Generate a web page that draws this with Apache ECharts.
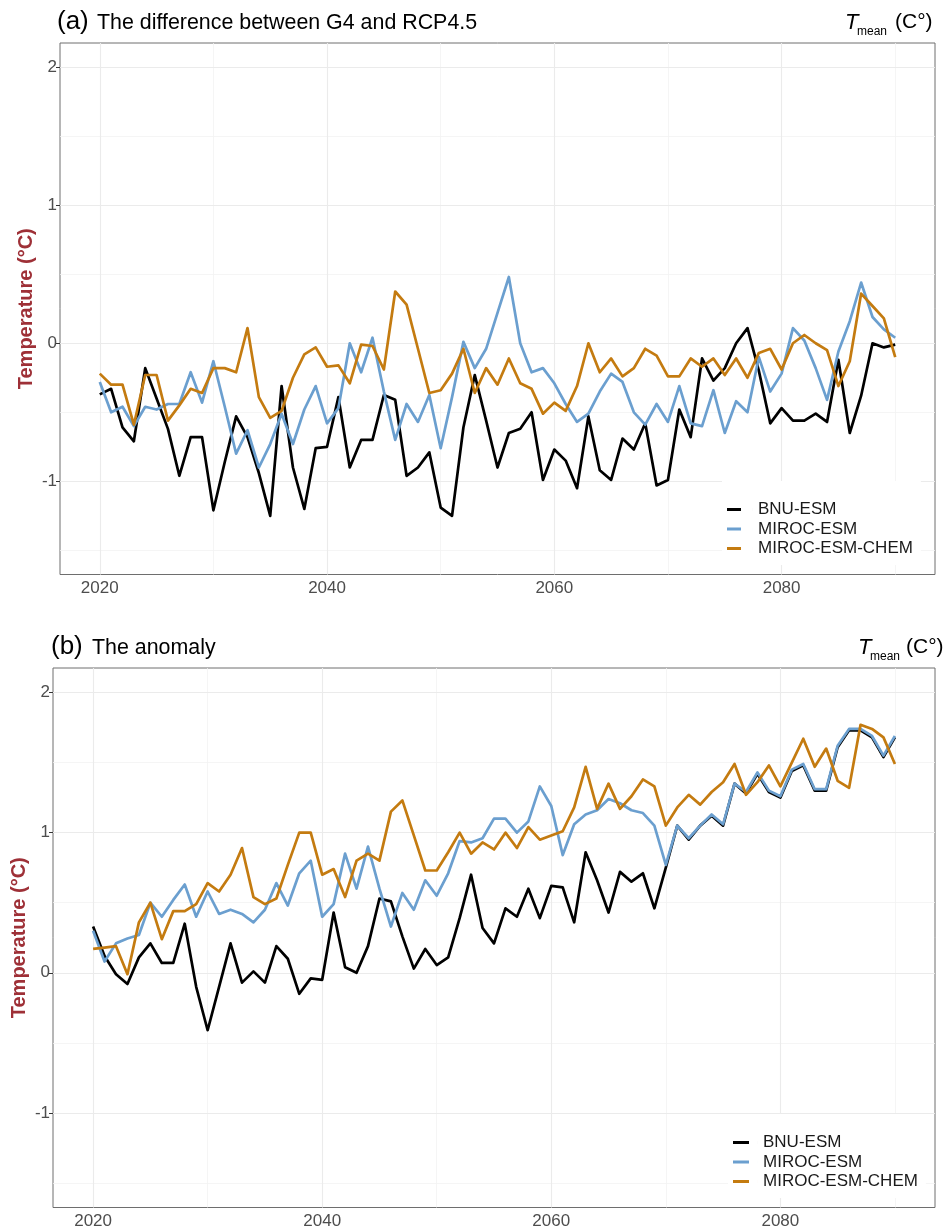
<!DOCTYPE html>
<html>
<head>
<meta charset="utf-8">
<title>G4 vs RCP4.5 mean temperature</title>
<script src="https://cdn.jsdelivr.net/npm/echarts@6.0.0/dist/echarts.min.js"></script>
<style>
  html, body { margin: 0; padding: 0; background: #fff; }
  #chart { width: 944px; height: 1232px; }
</style>
</head>
<body>
<div id="chart"></div>
<script>
// Years shown on both panels
const years = [];
for (let y = 2020; y <= 2090; y++) years.push(y);

const seriesNames = ['BNU-ESM', 'MIROC-ESM', 'MIROC-ESM-CHEM'];

// Panel (a): difference between G4 and RCP4.5 (°C)
const diffBNU = [
  -0.37, -0.33, -0.61, -0.71, -0.18, -0.40, -0.62, -0.96, -0.68, -0.68,
  -1.21, -0.86, -0.53, -0.68, -0.94, -1.25, -0.31, -0.90, -1.20, -0.76,
  -0.75, -0.39, -0.90, -0.70, -0.70, -0.375, -0.41, -0.96, -0.90, -0.79,
  -1.19, -1.25, -0.61, -0.23, -0.56, -0.90, -0.65, -0.62, -0.50, -0.99,
  -0.77, -0.85, -1.05, -0.53, -0.92, -0.99, -0.69, -0.77, -0.58, -1.03,
  -0.99, -0.48, -0.68, -0.11, -0.27, -0.18, 0.00, 0.11, -0.20, -0.58,
  -0.47, -0.56, -0.56, -0.51, -0.57, -0.12, -0.65, -0.38, 0.00, -0.03,
  -0.01
];
const diffMIROC = [
  -0.28, -0.50, -0.46, -0.60, -0.46, -0.48, -0.44, -0.44, -0.21, -0.43,
  -0.13, -0.46, -0.80, -0.63, -0.90, -0.73, -0.51, -0.73, -0.48, -0.31,
  -0.58, -0.47, 0.00, -0.21, 0.04, -0.35, -0.70, -0.44, -0.57, -0.375,
  -0.76, -0.39, 0.01, -0.18, -0.04, 0.22, 0.48, 0.00, -0.21, -0.18,
  -0.29, -0.44, -0.57, -0.51, -0.35, -0.22, -0.28, -0.50, -0.59, -0.44,
  -0.57, -0.31, -0.58, -0.60, -0.34, -0.65, -0.42, -0.50, -0.10, -0.35,
  -0.22, 0.11, 0.02, -0.18, -0.41, -0.06, 0.16, 0.44, 0.19, 0.10,
  0.04
];
const diffCHEM = [
  -0.22, -0.30, -0.30, -0.59, -0.23, -0.23, -0.56, -0.45, -0.33, -0.36,
  -0.18, -0.18, -0.21, 0.11, -0.39, -0.54, -0.49, -0.25, -0.08, -0.03,
  -0.17, -0.16, -0.29, -0.01, -0.02, -0.19, 0.375, 0.28, -0.04, -0.36,
  -0.34, -0.22, -0.04, -0.36, -0.18, -0.30, -0.11, -0.29, -0.33, -0.51,
  -0.43, -0.49, -0.31, 0.00, -0.21, -0.11, -0.24, -0.18, -0.04, -0.09,
  -0.24, -0.24, -0.11, -0.17, -0.11, -0.23, -0.11, -0.25, -0.07, -0.04,
  -0.19, 0.00, 0.06, 0.00, -0.05, -0.31, -0.13, 0.36, 0.27, 0.18,
  -0.10
];

// Panel (b): anomaly (°C)
const anomBNU = [
  0.33, 0.12, -0.01, -0.08, 0.11, 0.21, 0.07, 0.07, 0.35, -0.10,
  -0.41, -0.10, 0.21, -0.07, 0.01, -0.07, 0.19, 0.10, -0.15, -0.04,
  -0.05, 0.43, 0.04, 0.00, 0.19, 0.53, 0.51, 0.26, 0.03, 0.17,
  0.055, 0.11, 0.39, 0.70, 0.32, 0.21, 0.46, 0.40, 0.60, 0.39,
  0.62, 0.61, 0.36, 0.86, 0.66, 0.43, 0.72, 0.65, 0.71, 0.46,
  0.75, 1.05, 0.95, 1.05, 1.12, 1.05, 1.35, 1.28, 1.42, 1.29,
  1.25, 1.44, 1.48, 1.30, 1.30, 1.61, 1.73, 1.73, 1.68, 1.54,
  1.68
];
const anomMIROC = [
  0.30, 0.08, 0.21, 0.245, 0.27, 0.50, 0.40, 0.52, 0.63, 0.40,
  0.58, 0.42, 0.45, 0.42, 0.36, 0.45, 0.64, 0.48, 0.71, 0.80,
  0.40, 0.49, 0.85, 0.60, 0.90, 0.60, 0.33, 0.57, 0.45, 0.66,
  0.55, 0.71, 0.94, 0.93, 0.96, 1.10, 1.10, 1.00, 1.08, 1.33,
  1.19, 0.84, 1.06, 1.13, 1.16, 1.24, 1.21, 1.16, 1.14, 1.05,
  0.77, 1.05, 0.96, 1.05, 1.13, 1.06, 1.35, 1.29, 1.43, 1.30,
  1.26, 1.45, 1.49, 1.31, 1.31, 1.62, 1.74, 1.74, 1.69, 1.55,
  1.69
];
const anomCHEM = [
  0.17, 0.18, 0.19, -0.01, 0.36, 0.50, 0.24, 0.44, 0.44, 0.49,
  0.64, 0.58, 0.70, 0.89, 0.54, 0.49, 0.53, 0.77, 1.00, 1.00,
  0.70, 0.74, 0.54, 0.80, 0.85, 0.80, 1.15, 1.23, 0.98, 0.73,
  0.73, 0.86, 1.00, 0.85, 0.93, 0.88, 1.00, 0.89, 1.04, 0.95,
  0.98, 1.01, 1.18, 1.47, 1.17, 1.35, 1.17, 1.26, 1.38, 1.33,
  1.05, 1.18, 1.27, 1.20, 1.29, 1.36, 1.49, 1.27, 1.36, 1.48,
  1.33, 1.50, 1.67, 1.47, 1.60, 1.37, 1.32, 1.77, 1.74, 1.68,
  1.49
];

// Axis breaks
const xMajor = [2020, 2040, 2060, 2080];
const xMinor = [2030, 2050, 2070, 2090];
const yMajor = [-1, 0, 1, 2];
const yMinor = [-1.5, -0.5, 0.5, 1.5];

const colors = ['#000000', '#6B9FCF', '#C47B10'];
const FONT = '"Liberation Sans", Arial, Helvetica, sans-serif';

const pairs = vals => years.map((y, i) => [y, vals[i]]);

// Background grid (major and minor breaks) drawn beneath the data lines
function gridLines(idx) {
  const major = { color: '#EBEBEB', width: 1.1, type: 'solid' };
  const minor = { color: '#F3F3F3', width: 0.8, type: 'solid' };
  const data = [];
  yMinor.forEach(v => data.push({ yAxis: v, lineStyle: minor }));
  xMinor.forEach(v => data.push({ xAxis: v, lineStyle: minor }));
  yMajor.forEach(v => data.push({ yAxis: v, lineStyle: major }));
  xMajor.forEach(v => data.push({ xAxis: v, lineStyle: major }));
  return {
    name: 'grid-' + idx,
    type: 'line',
    xAxisIndex: idx,
    yAxisIndex: idx,
    data: [[2020, 0]],
    symbol: 'none',
    lineStyle: { opacity: 0 },
    silent: true,
    z: 1,
    markLine: {
      silent: true,
      z: 1,
      symbol: 'none',
      label: { show: false },
      animation: false,
      data: data
    }
  };
}

function lineSeries(idx, name, vals, color) {
  return {
    name: name,
    type: 'line',
    xAxisIndex: idx,
    yAxisIndex: idx,
    data: pairs(vals),
    symbol: 'none',
    itemStyle: { color: color },
    lineStyle: { color: color, width: 2.7, join: 'round' },
    z: 3,
    animation: false
  };
}

function xAxisFor(idx) {
  return {
    gridIndex: idx,
    type: 'value',
    min: 2016.5,
    max: 2093.5,
    axisLine: { show: false },
    axisTick: {
      show: true, customValues: xMajor, length: 4,
      lineStyle: { color: '#333333', width: 1 }
    },
    axisLabel: {
      customValues: xMajor, color: '#4D4D4D', fontSize: 17,
      fontFamily: FONT, margin: 5,
      formatter: v => String(v)
    },
    splitLine: { show: false }
  };
}

function yAxisFor(idx) {
  return {
    gridIndex: idx,
    type: 'value',
    min: -1.675,
    max: 2.175,
    name: 'Temperature (°C)',
    nameLocation: 'middle',
    nameGap: 24,
    nameMoveOverlap: false,
    nameTextStyle: {
      fontSize: 20, fontWeight: 'bold', color: '#9E3037', fontFamily: FONT
    },
    axisLine: { show: false },
    axisTick: {
      show: true, customValues: yMajor, length: 4,
      lineStyle: { color: '#333333', width: 1 }
    },
    axisLabel: {
      customValues: yMajor, color: '#4D4D4D', fontSize: 17,
      fontFamily: FONT, margin: 3,
      formatter: v => String(v)
    },
    splitLine: { show: false }
  };
}

function legendFor(left, top, keyPath, width) {
  return {
    orient: 'vertical',
    left: left,
    top: top,
    data: seriesNames.map(n => ({ name: n })),
    icon: keyPath,
    itemWidth: width,
    itemHeight: 3,
    itemGap: 2.5,
    padding: [20, 8, 8, 5],
    backgroundColor: '#ffffff',
    selectedMode: false,
    textStyle: {
      fontSize: 17, fontFamily: FONT, color: '#1A1A1A', lineHeight: 17
    },
    z: 5
  };
}

function titleText(text, left, top, size, style) {
  return {
    text: text,
    left: left,
    top: top,
    padding: 0,
    textStyle: Object.assign({
      fontSize: size, fontWeight: 'normal', color: '#000000', fontFamily: FONT
    }, style || {})
  };
}

const chart = echarts.init(document.getElementById('chart'), null, { renderer: 'canvas' });

chart.setOption({
  backgroundColor: '#ffffff',
  animation: false,
  title: [
    titleText('(a)', 57, 9, 26),
    titleText('The difference between G4 and RCP4.5', 97, 13, 21.4),
    titleText('T', 845, 12, 22, { fontStyle: 'italic' }),
    titleText('mean', 857, 26, 12),
    titleText('(C°)', 895, 12, 21),
    titleText('(b)', 51, 634, 26),
    titleText('The anomaly', 92, 638, 21.4),
    titleText('T', 858, 637, 22, { fontStyle: 'italic' }),
    titleText('mean', 870, 651, 12),
    titleText('(C°)', 906, 637, 21)
  ],
  legend: [
    legendFor(722, 481, 'path://M0,0H14V3H0Z M26,0H26.01V3H26Z', 26),
    legendFor(728, 1114, 'path://M0,0H16V3H0Z M25,0H25.01V3H25Z', 25)
  ],
  grid: [
    { left: 60, top: 43, width: 875, height: 531.5, show: true,
      borderColor: '#6E6E6E', borderWidth: 1, backgroundColor: '#ffffff' },
    { left: 53, top: 668, width: 882, height: 539.5, show: true,
      borderColor: '#6E6E6E', borderWidth: 1, backgroundColor: '#ffffff' }
  ],
  xAxis: [xAxisFor(0), xAxisFor(1)],
  yAxis: [yAxisFor(0), yAxisFor(1)],
  series: [
    gridLines(0),
    gridLines(1),
    lineSeries(0, seriesNames[0], diffBNU, colors[0]),
    lineSeries(0, seriesNames[1], diffMIROC, colors[1]),
    lineSeries(0, seriesNames[2], diffCHEM, colors[2]),
    lineSeries(1, seriesNames[0], anomBNU, colors[0]),
    lineSeries(1, seriesNames[1], anomMIROC, colors[1]),
    lineSeries(1, seriesNames[2], anomCHEM, colors[2])
  ]
});
</script>
</body>
</html>
